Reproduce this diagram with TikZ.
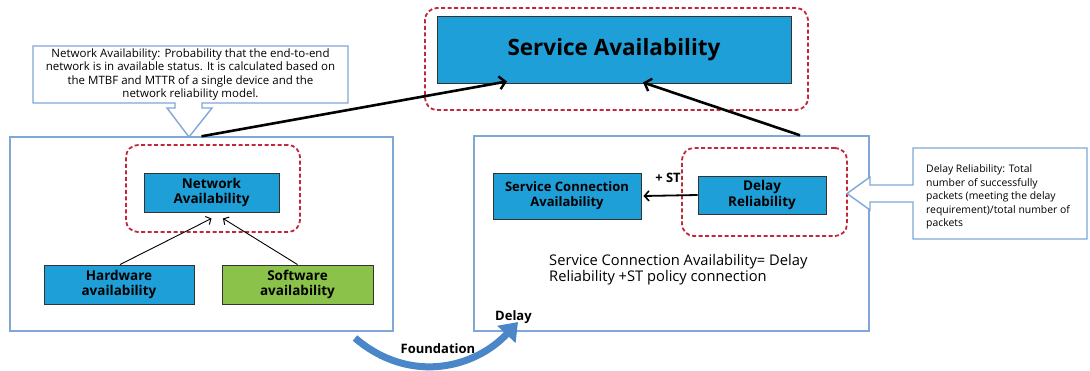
\documentclass[tikz,border=0pt]{standalone}
\usepackage{fontspec}
\setmainfont{Open Sans}
\usetikzlibrary{arrows.meta}
\definecolor{boxblue}{HTML}{1E9FD8}
\definecolor{boxgreen}{HTML}{8BC34A}
\definecolor{outl}{HTML}{7FA8D8}
\definecolor{reddash}{HTML}{C0283C}
\definecolor{arrblue}{HTML}{4A86C8}
\tikzset{
  solidbox/.style={draw=black!80, line width=0.9pt, align=center, inner sep=0pt, font=\bfseries\fontsize{13.5}{15.5}\selectfont},
  bluebox/.style={solidbox, fill=boxblue},
  greenbox/.style={solidbox, fill=boxgreen},
  framebox/.style={draw=outl, line width=1.4pt, inner sep=0pt},
  redgroup/.style={draw=reddash, line width=1.8pt, dash pattern=on 4pt off 2.5pt, rounded corners=12pt, inner sep=0pt},
  callout/.style={draw=outl, line width=1.4pt, fill=white},
  bigarrow/.style={line width=2.6pt, -{Straight Barb[length=6pt,width=13pt,line width=2.4pt]}},
  thinarrow/.style={line width=0.9pt, -{Straight Barb[length=4pt,width=9pt,line width=1pt]}},
  lbl/.style={font=\bfseries\fontsize{13}{15}\selectfont, inner sep=0pt},
}
\begin{document}
\begin{tikzpicture}[x=1pt,y=-1pt]
\useasboundingbox (0,0) rectangle (1090,370);
% big frames
\node[framebox, minimum width=383pt, minimum height=194pt] (lbox) at (201.5,234) {};
\node[framebox, minimum width=395pt, minimum height=195pt] (rbox) at (671.5,233.5) {};
% red dashed groups
\node[redgroup, minimum width=174pt, minimum height=87pt] (nared) at (213,188.5) {};
\node[redgroup, minimum width=383pt, minimum height=102pt] (svcred) at (616.5,59) {};
\node[redgroup, minimum width=165pt, minimum height=88pt] (drred) at (764.5,192) {};
% boxes
\node[bluebox, minimum width=354pt, minimum height=67pt, font=\bfseries\fontsize{22.5}{26}\selectfont] (svc) at (614,49.5) {Service Availability};
\node[bluebox, minimum width=135pt, minimum height=39pt] (na) at (211.5,192.5) {Network\\Availability};
\node[bluebox, minimum width=150pt, minimum height=39pt] (hw) at (119,284.5) {Hardware\\availability};
\node[greenbox, minimum width=151pt, minimum height=39pt] (sw) at (297.5,284.5) {Software\\availability};
\node[bluebox, minimum width=148pt, minimum height=46pt, font=\bfseries\fontsize{13}{15}\selectfont] (sca) at (567,196) {Service Connection\\Availability};
\node[bluebox, minimum width=128pt, minimum height=38pt] (dr) at (762,195) {Delay\\Reliability};
% left callout
\draw[callout] (33,46) -- (348,46) -- (348,103) -- (202,103) -- (202,108) -- (212,108) -- (189,137) -- (167,108) -- (175,108) -- (175,103) -- (33,103) -- cycle;
\node[align=center, inner sep=0pt, font=\fontsize{11.5}{13.6}\selectfont] (nacall) at (190.5,74.5) {Network Availability: Probability that the end-to-end\\network is in available status. It is calculated based on\\the MTBF and MTTR of a single device and the\\network reliability model.};
% right callout
\draw[callout] (913,148) -- (1087,148) -- (1087,239) -- (913,239) -- (913,202) -- (870,202) -- (870,210) -- (847,193.5) -- (870,177) -- (870,185) -- (913,185) -- cycle;
\node[align=left, anchor=west, inner sep=0pt, font=\fontsize{10.4}{13.5}\selectfont] (drcall) at (926,197) {Delay Reliability: Total\\number of successfully\\packets (meeting the delay\\requirement)/total number of\\packets};
% connectors
\draw[bigarrow] (lbox.north) -- ([xshift=-107pt,yshift=2pt]svc.south);
\draw[bigarrow] ([xshift=128.5pt]rbox.north) -- ([xshift=29pt,yshift=1pt]svc.south);
\draw[thinarrow] ([xshift=1pt]hw.north) -- ([yshift=-6pt]na.south);
\draw[thinarrow] (sw.north) -- ([xshift=11.5pt,yshift=-6pt]na.south);
\draw[line width=1.8pt, -{Straight Barb[length=4.5pt,width=10pt,line width=1.6pt]}] (dr.west) -- ([xshift=2pt]sca.east);
% labels
\node[lbl] (st) at (668,178) {+ ST};
\node[lbl, anchor=west] (delay) at (495,317) {Delay};
\node[align=left, anchor=west, inner sep=0pt, font=\fontsize{14.7}{15.5}\selectfont] (formula) at (549,269.5) {Service Connection Availability= Delay\\Reliability +ST policy connection};
% foundation arrow
\coordinate (fstart) at (355,338);
\coordinate (fend) at (518,322);
\draw[arrblue, line width=7pt, -{Triangle[length=17pt,width=24pt]}] (fstart) .. controls (410,385) and (475,368) .. (fend);
\node[lbl] (found) at (438,349) {Foundation};
\end{tikzpicture}
\end{document}
